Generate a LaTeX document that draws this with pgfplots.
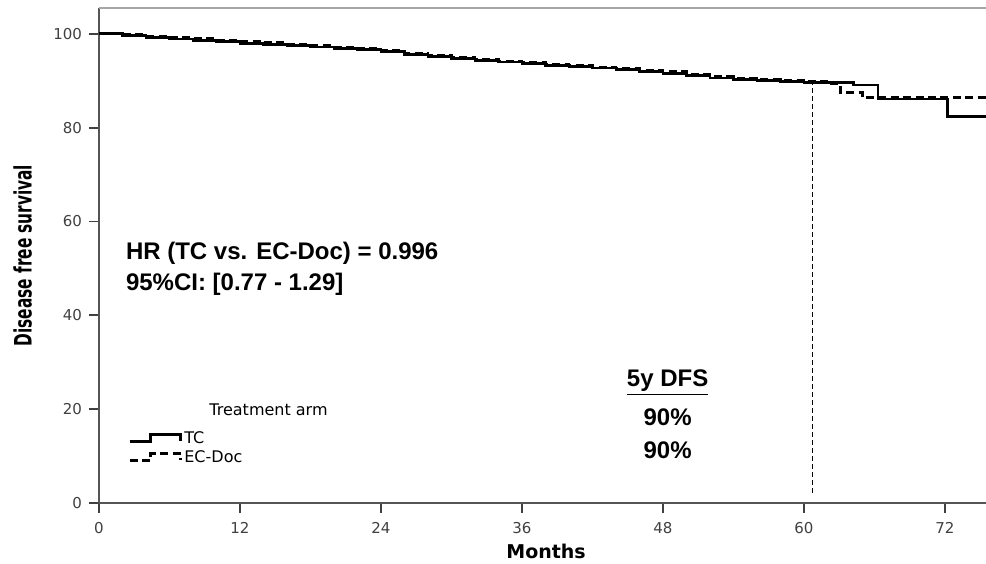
\documentclass[border=0pt]{standalone}
\usepackage{pgfplots}
\pgfplotsset{compat=1.18}
\usepackage{fontspec}
\setmainfont{Liberation Sans}
\newfontfamily\dejavu{DejaVu Sans}
\newfontfamily\dejavucond{DejaVu Sans Condensed}
\definecolor{axgray}{HTML}{555555}
\definecolor{tkgray}{HTML}{404040}
\begin{document}
\begin{tikzpicture}
\begin{axis}[
  scale only axis,
  width=443.5pt, height=247.5pt,
  xmin=0, xmax=75.5, ymin=0, ymax=105.5,
  axis x line*=bottom, axis y line*=left,
  axis line style={axgray, line width=1pt},
  xtick={0,12,...,72}, ytick={0,20,...,100},
  tick align=outside, major tick length=5pt,
  tick style={tkgray, line width=0.9pt},
  /pgf/number format/assume math mode=true,
  ticklabel style={font=\dejavu\fontsize{7.5}{9}\selectfont, text=tkgray},
  xticklabel style={yshift=-1pt},
  xlabel={\dejavu\bfseries\fontsize{9.5}{11}\selectfont Months},
  xlabel style={at={(axis description cs:0.504,-0.098)}, anchor=center},
  ylabel={\scalebox{0.71}[1]{\dejavucond\bfseries\fontsize{12}{14}\selectfont Disease free survival}},
  ylabel style={at={(axis description cs:-0.086,0.5)}, anchor=center},
  clip=false,
  legend style={at={(axis cs:2.45,15.9)}, anchor=north west, draw=none, fill=none,
    font=\dejavu\fontsize{8}{10}\selectfont, row sep=0pt,
    inner sep=0pt, nodes={inner xsep=1.2pt, inner ysep=1.25pt, text height=6pt, text depth=1pt}},
  legend cell align=left,
  legend image code/.code={\draw[#1] (0pt,-1.5pt) -- (10.5pt,-1.5pt) -- (10.5pt,1.8pt) -- (25.5pt,1.8pt) -- (25.5pt,-1.5pt);},
  after end axis/.code={\draw[gray!70, line width=1pt] (rel axis cs:0,1) -- (rel axis cs:1,1);
    \coordinate (bbl) at (axis description cs:-0.1116,-0.1212);
    \coordinate (btr) at (axis description cs:1,1.0162);},
]
\addplot[const plot, black, line width=1.4pt] coordinates {
(0,100) (2,99.6) (4,99.2) (6,98.9) (8,98.6) (10,98.3) (12,98.0) (14,97.7) (16,97.5) (18,97.2)
(20,96.9) (22,96.6) (24,96.2) (26,95.6) (28,95.2) (30,94.8) (32,94.4) (34,94.0) (36,93.6)
(38,93.3) (40,93.0) (42,92.7) (44,92.4) (46,92.0) (48,91.6) (50,91.1) (52,90.6) (54,90.3)
(56,90.0) (58,89.8) (60,89.6) (64.2,89.1) (66.3,86.1) (72.2,82.4) (75.5,82.4)};
\addlegendentry{TC}
\addplot[const plot, black, line width=1.4pt, dash pattern=on 4pt off 2.2pt] coordinates {
(0,100) (2,99.8) (4,99.5) (6,99.2) (8,99.0) (10,98.7) (12,98.4) (14,98.1) (16,97.8) (18,97.5)
(20,97.2) (22,96.8) (24,96.4) (26,95.9) (28,95.4) (30,94.9) (32,94.5) (34,94.2) (36,93.9)
(38,93.5) (40,93.2) (42,92.9) (44,92.6) (46,92.3) (48,91.9) (50,91.3) (52,90.9) (54,90.6)
(56,90.3) (58,90.1) (60,89.9) (62.2,89.4) (63.1,87.5) (65.0,86.4) (75.5,86.4)};
\addlegendentry{EC-Doc}
\addplot[black, line width=0.6pt, dash pattern=on 2.5pt off 1.5pt, forget plot] coordinates {(60.7,2.2) (60.7,89.7)};
\node[anchor=west, font=\dejavu\fontsize{8}{10}\selectfont] at (axis cs:8.8,19.8) {Treatment arm};
\node[anchor=west, align=left, font=\bfseries\fontsize{12}{15.5}\selectfont] at (axis cs:1.7,50.0) {HR (TC vs. EC-Doc) = 0.996\\95\%CI: [0.77 - 1.29]};
\node[font=\bfseries\fontsize{12}{14}\selectfont] at (axis cs:48.4,25.6) {\underline{5y DFS}};
\node[font=\bfseries\fontsize{12}{14}\selectfont] at (axis cs:48.4,18.3) {90\%};
\node[font=\bfseries\fontsize{12}{14}\selectfont] at (axis cs:48.4,11.3) {90\%};
\end{axis}
\pgfresetboundingbox
\path (bbl) rectangle (btr);
\end{tikzpicture}
\end{document}
